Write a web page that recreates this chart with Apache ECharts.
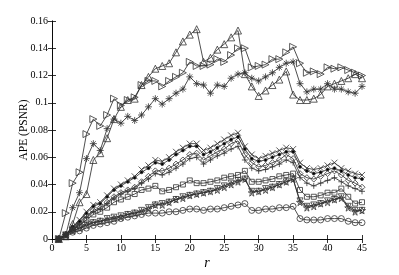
<!DOCTYPE html>
<html><head><meta charset="utf-8">
<script src="https://cdn.jsdelivr.net/npm/echarts@6/dist/echarts.min.js"></script>
<style>html,body{margin:0;padding:0;background:#fff}#c{width:399px;height:275px}</style>
</head><body><div id="c"></div>
<script>
const xs = [1,2,3,4,5,6,7,8,9,10,11,12,13,14,15,16,17,18,19,20,21,22,23,24,25,26,27,28,29,30,31,32,33,34,35,36,37,38,39,40,41,42,43,44,45];
const xTicks = [0,5,10,15,20,25,30,35,40,45];
const yTicks = [0,0.02,0.04,0.06,0.08,0.1,0.12,0.14,0.16];

const triRight = [0,0.019,0.041,0.049,0.077,0.088,0.083,0.091,0.103,0.098,0.102,0.104,0.113,0.116,0.116,0.112,0.116,0.119,0.122,0.130,0.127,0.127,0.128,0.132,0.130,0.135,0.140,0.140,0.126,0.127,0.128,0.132,0.132,0.137,0.141,0.129,0.122,0.123,0.121,0.126,0.125,0.126,0.124,0.122,0.120];
const triUp = [0,0.002,0.011,0.027,0.033,0.058,0.063,0.074,0.088,0.097,0.102,0.103,0.113,0.119,0.125,0.127,0.129,0.137,0.145,0.150,0.154,0.130,0.133,0.139,0.143,0.148,0.153,0.121,0.112,0.105,0.109,0.113,0.117,0.123,0.106,0.102,0.102,0.103,0.106,0.112,0.114,0.116,0.118,0.121,0.118];
const aster = [0,0.003,0.023,0.034,0.059,0.070,0.065,0.081,0.088,0.085,0.090,0.087,0.091,0.097,0.103,0.099,0.103,0.107,0.110,0.119,0.114,0.113,0.107,0.113,0.112,0.118,0.121,0.122,0.118,0.116,0.119,0.122,0.126,0.129,0.130,0.114,0.108,0.110,0.110,0.114,0.110,0.110,0.108,0.107,0.112];
const cross = [0,0.003,0.009,0.014,0.020,0.025,0.027,0.032,0.037,0.040,0.043,0.046,0.051,0.054,0.058,0.057,0.060,0.064,0.067,0.070,0.070,0.065,0.067,0.070,0.073,0.076,0.078,0.068,0.062,0.059,0.061,0.063,0.065,0.067,0.066,0.056,0.052,0.051,0.052,0.054,0.056,0.052,0.050,0.048,0.047];
const dot = [0,0.003,0.009,0.013,0.019,0.024,0.026,0.031,0.036,0.039,0.042,0.045,0.049,0.052,0.056,0.055,0.058,0.062,0.065,0.068,0.068,0.062,0.064,0.067,0.070,0.073,0.075,0.066,0.059,0.057,0.058,0.060,0.062,0.064,0.064,0.053,0.050,0.048,0.049,0.051,0.052,0.050,0.047,0.045,0.044];
const diamond = [0,0.003,0.008,0.012,0.017,0.021,0.023,0.027,0.031,0.034,0.036,0.038,0.042,0.046,0.050,0.050,0.052,0.055,0.058,0.062,0.063,0.058,0.061,0.064,0.066,0.070,0.072,0.062,0.056,0.053,0.054,0.056,0.058,0.062,0.059,0.048,0.045,0.044,0.046,0.048,0.050,0.047,0.043,0.041,0.038];
const plus = [0,0.003,0.007,0.011,0.016,0.020,0.022,0.026,0.030,0.033,0.035,0.037,0.041,0.044,0.048,0.047,0.049,0.052,0.055,0.059,0.060,0.055,0.058,0.061,0.063,0.066,0.068,0.058,0.052,0.050,0.051,0.053,0.055,0.058,0.056,0.045,0.041,0.039,0.041,0.043,0.045,0.042,0.039,0.037,0.035];
const square = [0,0.003,0.007,0.010,0.014,0.018,0.020,0.023,0.027,0.029,0.031,0.033,0.036,0.037,0.039,0.035,0.036,0.038,0.040,0.043,0.041,0.041,0.042,0.043,0.045,0.046,0.047,0.050,0.042,0.042,0.043,0.044,0.046,0.047,0.048,0.036,0.031,0.031,0.032,0.034,0.034,0.037,0.031,0.026,0.027];
const star = [0,0.003,0.006,0.008,0.010,0.012,0.013,0.014,0.015,0.016,0.018,0.019,0.020,0.022,0.025,0.025,0.027,0.029,0.030,0.032,0.033,0.034,0.035,0.036,0.038,0.040,0.042,0.044,0.034,0.035,0.036,0.038,0.040,0.042,0.044,0.027,0.023,0.024,0.026,0.027,0.029,0.030,0.023,0.020,0.021];
const triDown = [0,0.003,0.006,0.008,0.011,0.012,0.013,0.015,0.016,0.017,0.018,0.019,0.021,0.023,0.025,0.026,0.027,0.029,0.031,0.032,0.033,0.034,0.035,0.037,0.039,0.041,0.043,0.044,0.035,0.035,0.037,0.038,0.040,0.042,0.044,0.028,0.024,0.025,0.026,0.028,0.029,0.031,0.024,0.021,0.021];
const circle = [0,0.002,0.005,0.006,0.008,0.010,0.011,0.012,0.013,0.015,0.016,0.017,0.018,0.019,0.019,0.019,0.020,0.020,0.021,0.022,0.022,0.021,0.022,0.022,0.023,0.024,0.025,0.026,0.021,0.021,0.022,0.022,0.023,0.023,0.024,0.015,0.014,0.014,0.014,0.015,0.015,0.015,0.013,0.012,0.012];

const P_X = 'path://M0,0L10,10M10,0L0,10';
const P_PLUS = 'path://M5,0L5,10M0,5L10,5';
const P_AST = 'path://M5,0L5,10M0,5L10,5M1.5,1.5L8.5,8.5M8.5,1.5L1.5,8.5';
const P_STAR = 'path://M50,0L61,35L98,35L68,57L79,91L50,70L21,91L32,57L2,35L39,35Z';

function mk(name, vals, symbol, size, opts) {
  opts = opts || {};
  return {
    name: name, type: 'line', data: xs.map((x, i) => [x, vals[i]]),
    symbol: symbol, symbolSize: size, symbolRotate: opts.rot || 0,
    showAllSymbol: true,
    lineStyle: {color: '#222', width: 0.8},
    itemStyle: {color: opts.fill || 'rgba(0,0,0,0)', borderColor: '#333', borderWidth: 0.8},
    emphasis: {disabled: true}, z: 2
  };
}

const serif = 'Liberation Serif, Times New Roman, serif';
const chart = echarts.init(document.getElementById('c'), null, {renderer: 'canvas'});
chart.setOption({
  animation: false,
  backgroundColor: '#fff',
  grid: {left: 52, right: 37, top: 21, bottom: 31, show: false},
  xAxis: [{
    type: 'value', min: 0, max: 45, interval: 5,
    name: 'r', nameLocation: 'middle', nameGap: 17, nameMoveOverlap: false,
    nameTextStyle: {fontFamily: serif, fontStyle: 'italic', fontSize: 14, color: '#000'},
    axisLine: {lineStyle: {color: '#000', width: 0.8}},
    axisTick: {inside: true, length: 4, lineStyle: {color: '#000', width: 0.8}},
    axisLabel: {fontFamily: serif, fontSize: 10, color: '#000', margin: 4},
    splitLine: {show: false}
  }, {
    type: 'value', min: 0, max: 45, interval: 5, position: 'top',
    axisLine: {lineStyle: {color: '#000', width: 0.8}},
    axisTick: {inside: true, length: 4, lineStyle: {color: '#000', width: 0.8}},
    axisLabel: {show: false}, splitLine: {show: false}
  }],
  yAxis: [{
    type: 'value', min: 0, max: 0.16, interval: 0.02,
    name: 'APE (PSNR)', nameLocation: 'middle', nameGap: 22, nameMoveOverlap: false,
    nameTextStyle: {fontFamily: serif, fontSize: 11.5, color: '#000'},
    axisLine: {lineStyle: {color: '#000', width: 0.8}},
    axisTick: {inside: true, length: 4, lineStyle: {color: '#000', width: 0.8}},
    axisLabel: {fontFamily: serif, fontSize: 10, color: '#000', margin: 4,
      formatter: v => String(parseFloat(v.toFixed(2)))},
    splitLine: {show: false}
  }, {
    type: 'value', min: 0, max: 0.16, interval: 0.02, position: 'right',
    axisLine: {lineStyle: {color: '#000', width: 0.8}},
    axisTick: {inside: true, length: 4, lineStyle: {color: '#000', width: 0.8}},
    axisLabel: {show: false}, splitLine: {show: false}
  }],
  series: [
    mk('circle', circle, 'circle', 6),
    mk('star', star, P_STAR, 7),
    mk('triDown', triDown, 'triangle', 6, {rot: 180}),
    mk('square', square, 'rect', 5),
    mk('plus', plus, P_PLUS, 6),
    mk('diamond', diamond, 'diamond', 6),
    mk('dot', dot, 'circle', 3, {fill: '#000'}),
    mk('cross', cross, P_X, 6),
    mk('aster', aster, P_AST, 7),
    mk('triUp', triUp, 'triangle', 7),
    mk('triRight', triRight, 'triangle', 7, {rot: -90})
  ]
});
</script></body></html>
